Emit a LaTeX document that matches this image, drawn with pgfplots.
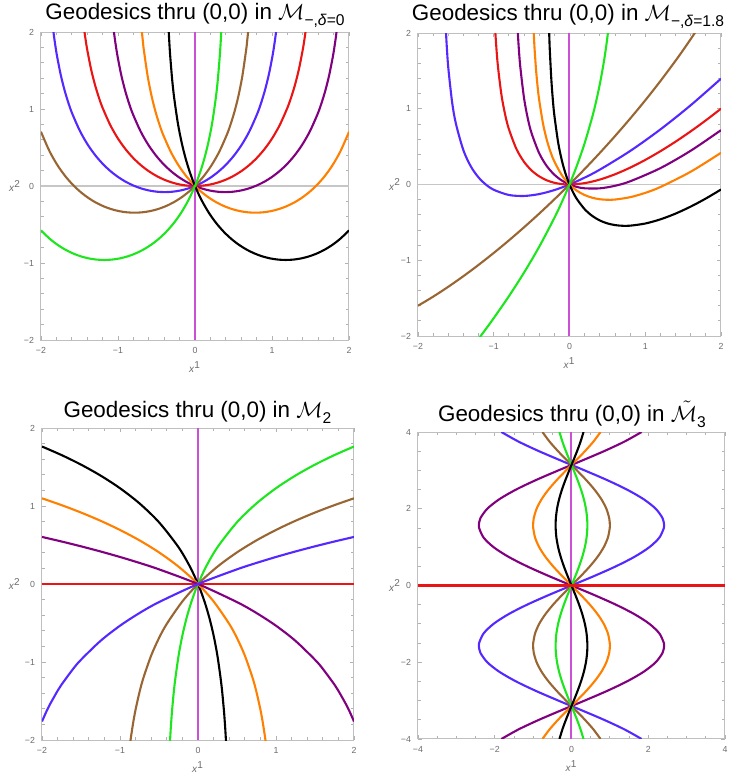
\documentclass[border=0pt]{standalone}
\usepackage{fontspec}
\setmainfont{Liberation Sans}
\usepackage{pgfplots}
\usepackage{pgfplotstable}
\pgfplotsset{compat=1.18}

\definecolor{mblue}{RGB}{85,40,255}
\definecolor{mred}{RGB}{235,20,20}
\definecolor{mpurple}{RGB}{128,0,128}
\definecolor{morange}{RGB}{255,128,0}
\definecolor{mgreen}{RGB}{30,230,30}
\definecolor{mbrown}{RGB}{153,102,51}
\definecolor{mmag}{RGB}{204,80,214}

\newcommand{\sub}[1]{\raisebox{-0.28em}{\fontsize{7.8}{8}\selectfont #1}}

\tikzset{ttl/.style={anchor=base, font=\fontsize{11.2}{13}\selectfont}}

\pgfplotsset{
  geopanel/.style={
    scale only axis, anchor=north west,
    xmin=-2, xmax=2, ymin=-2, ymax=2,
    axis line style={gray!50, line width=0.5pt},
    tick align=inside, tick pos=both,
    major tick length=2.2pt, minor tick length=1.3pt,
    every tick/.style={gray!60, line width=0.4pt},
    xtick={-2,-1,0,1,2}, ytick={-2,-1,0,1,2},
    xticklabels={−2,−1,0,1,2}, yticklabels={−2,−1,0,1,2},
    minor x tick num=4, minor y tick num=4,
    ticklabel style={font=\fontsize{4.4}{5}\selectfont, text=gray!85!black},
    xlabel={\textit{x}\textsuperscript{1}},
    ylabel={\textit{x}\textsuperscript{2}},
    label style={font=\fontsize{5}{6}\selectfont, text=gray!85!black},
    xlabel style={at={(axis description cs:0.5,-0.088)}, anchor=center},
    ylabel style={at={(axis description cs:-0.084,0.5)}, anchor=center, rotate=-90},
  },
  geo/.style={smooth, line width=1.05pt},
}

% panel 4: x1 against x2 for each curve
\pgfplotstableread{
y       b        br       g        p        o        k
-4.0    1.8271   0.7568   0.3135  -1.8271  -0.7568  -0.3135
-3.75   1.3799   0.5716   0.2367  -1.3799  -0.5716  -0.2367
-3.5    0.8469   0.3508   0.1453  -0.8469  -0.3508  -0.1453
-3.25   0.2612   0.1082   0.0448  -0.2612  -0.1082  -0.0448
-3.1416 0        0        0        0        0        0
-3.0   -0.3407  -0.1411  -0.0585   0.3407   0.1411   0.0585
-2.75  -0.9214  -0.3817  -0.1581   0.9214   0.3817   0.1581
-2.5   -1.4448  -0.5985  -0.2479   1.4448   0.5985   0.2479
-2.25  -1.8784  -0.7781  -0.3223   1.8784   0.7781   0.3223
-2.0   -2.1952  -0.9093  -0.3766   2.1952   0.9093   0.3766
-1.75  -2.3756  -0.9840  -0.4076   2.3756   0.9840   0.4076
-1.5708 -2.4142 -1.0     -0.4142   2.4142   1.0      0.4142
-1.5   -2.4082  -0.9975  -0.4132   2.4082   0.9975   0.4132
-1.25  -2.2911  -0.9490  -0.3931   2.2911   0.9490   0.3931
-1.0   -2.0315  -0.8415  -0.3485   2.0315   0.8415   0.3485
-0.75  -1.6456  -0.6816  -0.2823   1.6456   0.6816   0.2823
-0.5   -1.1574  -0.4794  -0.1986   1.1574   0.4794   0.1986
-0.25  -0.5973  -0.2474  -0.1025   0.5973   0.2474   0.1025
0       0        0        0        0        0        0
0.25    0.5973   0.2474   0.1025  -0.5973  -0.2474  -0.1025
0.5     1.1574   0.4794   0.1986  -1.1574  -0.4794  -0.1986
0.75    1.6456   0.6816   0.2823  -1.6456  -0.6816  -0.2823
1.0     2.0315   0.8415   0.3485  -2.0315  -0.8415  -0.3485
1.25    2.2911   0.9490   0.3931  -2.2911  -0.9490  -0.3931
1.5     2.4082   0.9975   0.4132  -2.4082  -0.9975  -0.4132
1.5708  2.4142   1.0      0.4142  -2.4142  -1.0     -0.4142
1.75    2.3756   0.9840   0.4076  -2.3756  -0.9840  -0.4076
2.0     2.1952   0.9093   0.3766  -2.1952  -0.9093  -0.3766
2.25    1.8784   0.7781   0.3223  -1.8784  -0.7781  -0.3223
2.5     1.4448   0.5985   0.2479  -1.4448  -0.5985  -0.2479
2.75    0.9214   0.3817   0.1581  -0.9214  -0.3817  -0.1581
3.0     0.3407   0.1411   0.0585  -0.3407  -0.1411  -0.0585
3.1416  0        0        0        0        0        0
3.25   -0.2612  -0.1082  -0.0448   0.2612   0.1082   0.0448
3.5    -0.8469  -0.3508  -0.1453   0.8469   0.3508   0.1453
3.75   -1.3799  -0.5716  -0.2367   1.3799   0.5716   0.2367
4.0    -1.8271  -0.7568  -0.3135   1.8271   0.7568   0.3135
}\tblfour

\begin{document}
\begin{tikzpicture}
\useasboundingbox (0,0) rectangle (365pt,-386.5pt);

% ---------- panel 1 ----------
\node[ttl] at (97.5pt,-9.6pt) {Geodesics thru (0,0) in $\mathcal{M}$\sub{−,\textit{δ}=0}};
\begin{axis}[geopanel, at={(20.5pt,-16pt)}, width=154pt, height=154pt]
\addplot[gray!45, line width=0.6pt] coordinates {(-2,0) (2,0)};
\addplot[mmag, line width=1pt] coordinates {(0,-2) (0,2)};
\addplot[geo, mblue] coordinates {(-1.8381,2) (-1.8227,1.8846) (-1.7927,1.6930) (-1.7427,1.4395) (-1.6927,1.2394) (-1.6427,1.0750) (-1.5927,0.9359) (-1.4927,0.7114) (-1.3927,0.5364) (-1.2927,0.3963) (-1.1927,0.2822) (-1.0927,0.1889) (-0.9927,0.1128) (-0.8927,0.0514) (-0.7927,0.0030) (-0.6927,-0.0335) (-0.5927,-0.0591) (-0.4927,-0.0742) (-0.3927,-0.0792) (-0.2927,-0.0742) (-0.1927,-0.0591) (-0.0927,-0.0335) (0,0) (0.1073,0.0514) (0.2073,0.1128) (0.3073,0.1889) (0.4073,0.2822) (0.5073,0.3963) (0.6073,0.5364) (0.7073,0.7114) (0.8073,0.9359) (0.8573,1.0750) (0.9073,1.2394) (0.9573,1.4395) (1.0073,1.6930) (1.0373,1.8846) (1.0527,2)};
\addplot[geo, mred] coordinates {(-1.4350,2) (-1.42,1.8956) (-1.4,1.7722) (-1.35,1.5187) (-1.3,1.3186) (-1.25,1.1542) (-1.2,1.0151) (-1.1,0.7906) (-1,0.6156) (-0.9,0.4755) (-0.8,0.3614) (-0.7,0.2681) (-0.6,0.1920) (-0.5,0.1306) (-0.4,0.0822) (-0.3,0.0457) (-0.2,0.0201) (-0.1,0.0050) (0,0) (0.1,0.0050) (0.2,0.0201) (0.3,0.0457) (0.4,0.0822) (0.5,0.1306) (0.6,0.1920) (0.7,0.2681) (0.8,0.3614) (0.9,0.4755) (1,0.6156) (1.1,0.7906) (1.2,1.0151) (1.25,1.1542) (1.3,1.3186) (1.35,1.5187) (1.4,1.7722) (1.42,1.8956) (1.4350,2)};
\addplot[geo, mpurple] coordinates {(-1.0527,2) (-1.0373,1.8846) (-1.0073,1.6930) (-0.9573,1.4395) (-0.9073,1.2394) (-0.8573,1.0750) (-0.8073,0.9359) (-0.7073,0.7114) (-0.6073,0.5364) (-0.5073,0.3963) (-0.4073,0.2822) (-0.3073,0.1889) (-0.2073,0.1128) (-0.1073,0.0514) (0,0) (0.0927,-0.0335) (0.1927,-0.0591) (0.2927,-0.0742) (0.3927,-0.0792) (0.4927,-0.0742) (0.5927,-0.0591) (0.6927,-0.0335) (0.7927,0.0030) (0.8927,0.0514) (0.9927,0.1128) (1.0927,0.1889) (1.1927,0.2822) (1.2927,0.3963) (1.3927,0.5364) (1.4927,0.7114) (1.5927,0.9359) (1.6427,1.0750) (1.6927,1.2394) (1.7427,1.4395) (1.7927,1.6930) (1.8227,1.8846) (1.8381,2)};
\addplot[geo, morange] coordinates {(-0.6896,2) (-0.6746,1.8555) (-0.6646,1.7695) (-0.6146,1.4256) (-0.5646,1.1721) (-0.5146,0.9720) (-0.4646,0.8076) (-0.4146,0.6685) (-0.3146,0.4440) (-0.2146,0.2690) (-0.1146,0.1289) (0,0) (0.0854,-0.0785) (0.1854,-0.1546) (0.2854,-0.2160) (0.3854,-0.2644) (0.4854,-0.3009) (0.5854,-0.3265) (0.6854,-0.3416) (0.7854,-0.3466) (0.8854,-0.3416) (0.9854,-0.3265) (1.0854,-0.3009) (1.1854,-0.2644) (1.2854,-0.2160) (1.3854,-0.1546) (1.4854,-0.0785) (1.5854,0.0148) (1.6854,0.1289) (1.7854,0.2690) (1.8854,0.4440) (1.9854,0.6685) (2,0.7069)};
\addplot[geo, mbrown] coordinates {(-2,0.7069) (-1.9854,0.6685) (-1.8854,0.4440) (-1.7854,0.2690) (-1.6854,0.1289) (-1.5854,0.0148) (-1.4854,-0.0785) (-1.3854,-0.1546) (-1.2854,-0.2160) (-1.1854,-0.2644) (-1.0854,-0.3009) (-0.9854,-0.3265) (-0.8854,-0.3416) (-0.7854,-0.3466) (-0.6854,-0.3416) (-0.5854,-0.3265) (-0.4854,-0.3009) (-0.3854,-0.2644) (-0.2854,-0.2160) (-0.1854,-0.1546) (-0.0854,-0.0785) (0,0) (0.1146,0.1289) (0.2146,0.2690) (0.3146,0.4440) (0.4146,0.6685) (0.4646,0.8076) (0.5146,0.9720) (0.5646,1.1721) (0.6146,1.4256) (0.6646,1.7695) (0.6746,1.8555) (0.6896,2)};
\addplot[geo, black] coordinates {(-0.3409,2) (-0.3319,1.8402) (-0.3219,1.6882) (-0.2969,1.3865) (-0.2719,1.1555) (-0.2219,0.8116) (-0.1719,0.5581) (-0.1219,0.3580) (-0.0719,0.1936) (-0.0219,0.0545) (0,0) (0.0781,-0.1700) (0.1781,-0.3449) (0.2781,-0.4851) (0.3781,-0.5992) (0.4781,-0.6925) (0.5781,-0.7686) (0.6781,-0.8300) (0.7781,-0.8784) (0.8781,-0.9149) (0.9781,-0.9405) (1.0781,-0.9556) (1.1781,-0.9606) (1.2781,-0.9556) (1.3781,-0.9405) (1.4781,-0.9149) (1.5781,-0.8784) (1.6781,-0.8300) (1.7781,-0.7686) (1.8781,-0.6925) (1.9781,-0.5992) (2,-0.5761)};
\addplot[geo, mgreen] coordinates {(-2,-0.5761) (-1.9781,-0.5992) (-1.8781,-0.6925) (-1.7781,-0.7686) (-1.6781,-0.8300) (-1.5781,-0.8784) (-1.4781,-0.9149) (-1.3781,-0.9405) (-1.2781,-0.9556) (-1.1781,-0.9606) (-1.0781,-0.9556) (-0.9781,-0.9405) (-0.8781,-0.9149) (-0.7781,-0.8784) (-0.6781,-0.8300) (-0.5781,-0.7686) (-0.4781,-0.6925) (-0.3781,-0.5992) (-0.2781,-0.4851) (-0.1781,-0.3449) (-0.0781,-0.1700) (0,0) (0.0219,0.0545) (0.0719,0.1936) (0.1219,0.3580) (0.1719,0.5581) (0.2219,0.8116) (0.2719,1.1555) (0.2969,1.3865) (0.3219,1.6882) (0.3319,1.8402) (0.3409,2)};
\end{axis}

% ---------- panel 2 ----------
\node[ttl] at (284pt,-10pt) {Geodesics thru (0,0) in $\mathcal{M}$\sub{−,\textit{δ}=1.8}};
\begin{axis}[geopanel, at={(209pt,-16.5pt)}, width=151.5pt, height=151.5pt,
  ylabel style={at={(axis description cs:-0.076,0.5)}}]
\addplot[gray!45, line width=0.6pt] coordinates {(-2,0) (2,0)};
\addplot[mmag, line width=1pt] coordinates {(0,-2) (0,2)};
\addplot[geo, mblue] coordinates {(-1.63,2.0017) (-1.62,1.8206) (-1.6,1.5412) (-1.55,1.0899) (-1.5,0.8051) (-1.4,0.4502) (-1.3,0.2347) (-1.2,0.0926) (-1.1,-0.0041) (-1,-0.0698) (-0.8,-0.1384) (-0.6,-0.1511) (-0.4,-0.1262) (-0.2,-0.0737) (0,0) (0.2,0.0909) (0.4,0.1960) (0.8,0.4419) (1.2,0.7272) (1.6,1.0464) (2,1.3968)};
\addplot[geo, mred] coordinates {(-0.98,2.0235) (-0.95,1.6136) (-0.9,1.1951) (-0.85,0.9250) (-0.8,0.7311) (-0.7,0.4680) (-0.6,0.2990) (-0.5,0.1851) (-0.4,0.1074) (-0.3,0.0554) (-0.2,0.0228) (-0.1,0.0053) (0,0) (0.2,0.0179) (0.4,0.0651) (0.6,0.1346) (0.8,0.2221) (1,0.3244) (1.2,0.4394) (1.4,0.5655) (1.6,0.7016) (1.8,0.8469) (2,1.0007)};
\addplot[geo, mpurple] coordinates {(-0.685,2.0597) (-0.68,1.9684) (-0.67,1.8095) (-0.65,1.5584) (-0.6,1.1398) (-0.55,0.8696) (-0.5,0.6757) (-0.4,0.4126) (-0.3,0.2436) (-0.2,0.1297) (-0.1,0.0519) (0,0) (0.1,-0.0326) (0.2,-0.0501) (0.4,-0.0507) (0.6,-0.0171) (0.8,0.0420) (1.2,0.2161) (1.6,0.4457) (2,0.7177)};
\addplot[geo, morange] coordinates {(-0.475,2.0665) (-0.47,1.9595) (-0.46,1.7769) (-0.44,1.4959) (-0.42,1.2841) (-0.4,1.1154) (-0.35,0.8060) (-0.3,0.5902) (-0.25,0.4289) (-0.2,0.3034) (-0.1,0.1218) (0,0) (0.1,-0.0831) (0.2,-0.1390) (0.3,-0.1746) (0.4,-0.1945) (0.5,-0.2017) (0.6,-0.1986) (0.8,-0.1676) (1,-0.1105) (1.2,-0.0331) (1.6,0.1686) (2,0.4187)};
\addplot[geo, black] coordinates {(-0.27,2.0564) (-0.265,1.9069) (-0.26,1.7779) (-0.24,1.3906) (-0.22,1.1210) (-0.2,0.9160) (-0.15,0.5560) (-0.1,0.3139) (-0.05,0.1364) (0,0) (0.05,-0.1081) (0.1,-0.1955) (0.2,-0.3257) (0.3,-0.4146) (0.4,-0.4746) (0.5,-0.5133) (0.6,-0.5357) (0.7,-0.5449) (0.8,-0.5435) (1,-0.5151) (1.2,-0.4600) (1.4,-0.3842) (1.6,-0.2916) (1.8,-0.1850) (2,-0.0662)};
\addplot[geo, mbrown] coordinates {(-2,-1.6004) (-1.8,-1.4805) (-1.6,-1.3499) (-1.4,-1.2097) (-1.2,-1.0607) (-1,-0.9034) (-0.8,-0.7380) (-0.6,-0.5650) (-0.4,-0.3843) (-0.2,-0.1960) (0,0) (0.2,0.2041) (0.4,0.4165) (0.6,0.6380) (0.8,0.8692) (1,1.1112) (1.2,1.3654) (1.4,1.6339) (1.5,1.7743) (1.6,1.9194) (1.7,2.0697)};
\addplot[geo, mgreen] coordinates {(-1.2,-2.0361) (-1.1,-1.9022) (-1,-1.7642) (-0.8,-1.4746) (-0.6,-1.1628) (-0.4,-0.8221) (-0.2,-0.4413) (-0.1,-0.2301) (0,0) (0.1,0.2553) (0.2,0.5457) (0.3,0.8890) (0.35,1.0905) (0.4,1.3218) (0.45,1.5964) (0.48,1.7920) (0.5,1.9407) (0.51,2.0221)};
\end{axis}

% ---------- panel 3 ----------
\node[ttl] at (98.75pt,-208.6pt) {Geodesics thru (0,0) in $\mathcal{M}$\sub{2}};
\begin{axis}[geopanel, at={(21pt,-214pt)}, width=156pt, height=156pt,
  ylabel style={at={(axis description cs:-0.087,0.5)}}]
\addplot[mmag, line width=1pt] coordinates {(0,-2) (0,2)};
\addplot[mred, line width=1.05pt] coordinates {(-2,0) (2,0)};
\addplot[geo, black] coordinates {(-2,1.7627) (-1.75,1.6534) (-1.5,1.5307) (-1.25,1.3907) (-1,1.2279) (-0.75,1.0334) (-0.5,0.7917) (-0.25,0.4722) (-0.1,0.2163) (0,0) (0.05,-0.1286) (0.1,-0.2763) (0.15,-0.4496) (0.2,-0.6594) (0.25,-0.9252) (0.3,-1.2883) (0.33,-1.5930) (0.34,-1.7194) (0.35,-1.8642) (0.36,-2.0334)};
\addplot[geo, mgreen] coordinates {(-0.36,-2.0334) (-0.35,-1.8642) (-0.34,-1.7194) (-0.33,-1.5930) (-0.3,-1.2883) (-0.25,-0.9252) (-0.2,-0.6594) (-0.15,-0.4496) (-0.1,-0.2763) (-0.05,-0.1286) (0,0) (0.1,0.2163) (0.25,0.4722) (0.5,0.7917) (0.75,1.0334) (1,1.2279) (1.25,1.3907) (1.5,1.5307) (1.75,1.6534) (2,1.7627)};
\addplot[geo, morange] coordinates {(-2,1.0986) (-1.75,1.0116) (-1.5,0.9163) (-1.25,0.8109) (-1,0.6931) (-0.75,0.5596) (-0.5,0.4055) (-0.25,0.2231) (0,0) (0.2,-0.2231) (0.4,-0.5108) (0.5,-0.6931) (0.6,-0.9163) (0.7,-1.2040) (0.75,-1.3863) (0.8,-1.6094) (0.83,-1.7720) (0.86,-1.9661) (0.87,-2.0402)};
\addplot[geo, mbrown] coordinates {(-0.87,-2.0402) (-0.86,-1.9661) (-0.83,-1.7720) (-0.8,-1.6094) (-0.75,-1.3863) (-0.7,-1.2040) (-0.6,-0.9163) (-0.5,-0.6931) (-0.4,-0.5108) (-0.2,-0.2231) (0,0) (0.25,0.2231) (0.5,0.4055) (0.75,0.5596) (1,0.6931) (1.25,0.8109) (1.5,0.9163) (1.75,1.0116) (2,1.0986)};
\addplot[geo, mpurple] coordinates {(-2,0.6035) (-1.75,0.5452) (-1.5,0.4832) (-1.25,0.4172) (-1,0.3466) (-0.75,0.2705) (-0.5,0.1882) (0,0) (0.5,-0.2321) (0.75,-0.3720) (1,-0.5348) (1.25,-0.7293) (1.5,-0.9711) (1.6,-1.0869) (1.75,-1.2905) (1.8,-1.3688) (1.9,-1.5465) (1.95,-1.6488) (2,-1.7627)};
\addplot[geo, mblue] coordinates {(-2,-1.7627) (-1.95,-1.6488) (-1.9,-1.5465) (-1.8,-1.3688) (-1.75,-1.2905) (-1.6,-1.0869) (-1.5,-0.9711) (-1.25,-0.7293) (-1,-0.5348) (-0.75,-0.3720) (-0.5,-0.2321) (0,0) (0.5,0.1882) (0.75,0.2705) (1,0.3466) (1.25,0.4172) (1.5,0.4832) (1.75,0.5452) (2,0.6035)};
\end{axis}

% ---------- panel 4 ----------
\node[ttl] at (286pt,-210.6pt) {Geodesics thru (0,0) in $\tilde{\mathcal{M}}$\sub{3}};
\begin{axis}[geopanel, at={(209pt,-216pt)}, width=153.5pt, height=153.5pt,
  xmin=-4, xmax=4, ymin=-4, ymax=4,
  xtick={-4,-2,0,2,4}, ytick={-4,-2,0,2,4},
  xticklabels={−4,−2,0,2,4}, yticklabels={−4,−2,0,2,4},
  minor x tick num=3, minor y tick num=3,
  ylabel style={at={(axis description cs:-0.075,0.5)}}]
\addplot[mmag, line width=1pt] coordinates {(0,-4) (0,4)};
\addplot[geo, mblue] table[x=b, y=y] {\tblfour};
\addplot[geo, mpurple] table[x=p, y=y] {\tblfour};
\addplot[geo, mbrown] table[x=br, y=y] {\tblfour};
\addplot[geo, morange] table[x=o, y=y] {\tblfour};
\addplot[geo, mgreen] table[x=g, y=y] {\tblfour};
\addplot[geo, black] table[x=k, y=y] {\tblfour};
\addplot[mred, line width=1.05pt] coordinates {(-4,0) (4,0)};
\end{axis}
\end{tikzpicture}
\end{document}
